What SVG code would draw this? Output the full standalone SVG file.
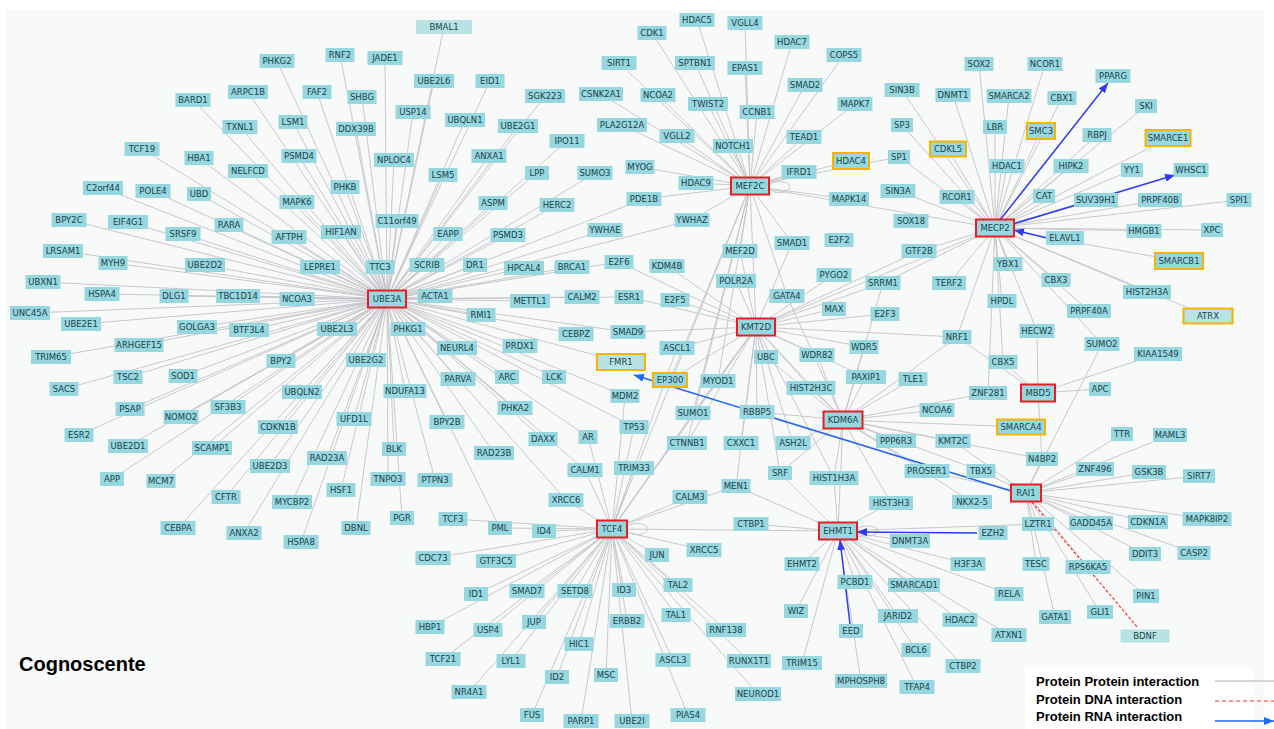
<svg xmlns="http://www.w3.org/2000/svg" width="1274" height="729" viewBox="0 0 1274 729">
<style>
.n rect{fill:#97d7df}
.n text{font-family:"DejaVu Sans",Verdana,sans-serif;font-size:8.5px;fill:#21424a;text-anchor:middle;dominant-baseline:central}
.h rect{stroke:#ec1c24;stroke-width:2}
.o rect{stroke:#f6b400;stroke-width:2}
.p rect{fill:#b8e3e5}
.e{fill:none;stroke:#c3c3c8;stroke-width:.9}
.b{fill:none;stroke:#2f3cf0;stroke-width:1.5}
.lg{font-family:"Liberation Sans",Arial,sans-serif;font-weight:bold;font-size:13px;fill:#000}
</style>
<defs>
<marker id="ah" viewBox="0 0 10 8" refX="10" refY="4" markerWidth="10" markerHeight="8" markerUnits="userSpaceOnUse" orient="auto"><path d="M0 0L10 4L0 8z" fill="#2f3cf0"/></marker>
<marker id="ah2" viewBox="0 0 10 8" refX="10" refY="4" markerWidth="10" markerHeight="8" markerUnits="userSpaceOnUse" orient="auto"><path d="M0 0L10 4L0 8z" fill="#1f66f0"/></marker>
</defs>
<rect x="0" y="0" width="1274" height="729" fill="#fff"/>
<rect x="6" y="10" width="1258" height="719" fill="#f8f9f9"/>
<g id="connectors">
<path id="e-UBE3A" class="e" d="M387 299L277 61M387 299L340 55M387 299L385 58M387 299L444 27M387 299L434 81M387 299L490 81M387 299L193 100M387 299L248 92M387 299L317 92M387 299L362 97M387 299L413 112M387 299L545 96M387 299L465 120M387 299L293 122M387 299L356 129M387 299L518 126M387 299L240 127M387 299L142 149M387 299L199 158M387 299L299 156M387 299L394 160M387 299L567 141M387 299L489 156M387 299L443 175M387 299L537 173M387 299L595 173M387 299L248 171M387 299L103 188M387 299L153 191M387 299L199 194M387 299L297 202M387 299L345 187M387 299L493 203M387 299L557 205M387 299L69 220M387 299L128 222M387 299L229 225M387 299L183 234M387 299L289 237M387 299L341 232M387 299L397 221M387 299L448 234M387 299L508 235M387 299L605 230M387 299L644 199M387 299L692 220M387 299L63 251M387 299L113 263M387 299L205 265M387 299L320 267M387 299L380 267M387 299L427 265M387 299L475 265M387 299L524 268M387 299L572 267M387 299L619 262M387 299L43 282M387 299L102 294M387 299L174 296M387 299L238 296M387 299L297 299M387 299L435 296M387 299L530 301M387 299L582 297M387 299L629 297M387 299L30 313M387 299L81 324M387 299L197 327M387 299L249 330M387 299L337 329M387 299L481 315M387 299L576 334M387 299L628 332M387 299L139 345M387 299L51 357M387 299L408 329M387 299L457 348M387 299L520 346M387 299L621 362M387 299L281 361M387 299L366 360M387 299L128 377M387 299L183 376M387 299L64 389M387 299L302 392M387 299L458 379M387 299L507 377M387 299L554 377M387 299L625 396M387 299L228 407M387 299L130 409M387 299L181 417M387 299L405 391M387 299L515 408M387 299L634 427M387 299L79 435M387 299L128 446M387 299L212 448M387 299L278 427M387 299L354 419M387 299L447 422M387 299L543 439M387 299L588 437M387 299L494 453M387 299L327 458M387 299L270 466M387 299L394 449M387 299L112 479M387 299L161 481M387 299L388 479M387 299L435 480M387 299L341 490M387 299L226 497M387 299L292 502M387 299L585 470M387 299L566 500M387 299L500 528M387 299L356 528M387 299L402 518M387 299L178 528M387 299L244 533M387 299L301 542"/>
<path id="e-MEF2C" class="e" d="M750 186L652 33M750 186L697 20M750 186L745 23M750 186L792 42M750 186L844 55M750 186L619 63M750 186L695 63M750 186L745 68M750 186L601 94M750 186L658 95M750 186L708 104M750 186L805 85M750 186L622 125M750 186L757 112M750 186L855 104M750 186L677 136M750 186L804 137M750 186L733 146M750 186L640 167M750 186L696 183M750 186L799 172M750 186L851 161M750 186L899 157M750 186L849 199M750 186L995 228M750 186L644 199M750 186L692 220M750 186L740 251M750 186L792 243M750 186L787 296M750 186L718 381M750 186L670 380M750 186L693 413M750 186L687 443M750 186L612 529M750 186L756 327"/>
<path id="e-KMT2D" class="e" d="M756 327L740 251M756 327L736 281M756 327L792 243M756 327L834 275M756 327L883 283M756 327L834 309M756 327L885 314M756 327L919 251M756 327L995 228M756 327L957 337M756 327L864 347M756 327L817 355M756 327L766 357M756 327L667 266M756 327L675 300M756 327L619 262M756 327L629 297M756 327L628 332M756 327L677 348M756 327L670 380M756 327L718 381M756 327L811 388M756 327L757 412M756 327L741 443M756 327L793 443M756 327L866 377M756 327L843 420M756 327L834 478M756 327L736 486M756 327L693 413M756 327L687 443M756 327L612 529M756 327L780 473"/>
<path id="e-KDM6A" class="e" d="M843 420L864 347M843 420L866 377M843 420L913 379M843 420L937 410M843 420L953 441M843 420L896 441M843 420L927 471M843 420L793 443M843 420L834 478M843 420L757 412M843 420L766 357M843 420L817 355M843 420L811 388M843 420L780 473M843 420L981 471M843 420L972 502M843 420L1021 427M843 420L988 393M843 420L1042 459M843 420L787 296M843 420L883 283M843 420L891 503M843 420L838 531M843 420L957 337"/>
<path id="e-MECP2" class="e" d="M995 228L979 64M995 228L1045 64M995 228L953 95M995 228L1009 96M995 228L1062 98M995 228L1146 106M995 228L995 127M995 228L1041 131M995 228L1097 135M995 228L1168 138M995 228L902 90M995 228L902 125M995 228L948 149M995 228L899 157M995 228L1007 166M995 228L1071 166M995 228L1132 170M995 228L898 191M995 228L957 197M995 228L1044 196M995 228L1096 200M995 228L1160 200M995 228L1239 200M995 228L1144 231M995 228L1212 230M995 228L919 251M995 228L1008 264M995 228L1179 261M995 228L949 283M995 228L1056 280M995 228L1147 292M995 228L1208 316M995 228L1002 301M995 228L1089 311M995 228L957 337M995 228L1037 331M995 228L1003 362M995 228L1102 344M995 228L883 283M995 228L988 393"/>
<path id="e-MBD5" class="e" d="M1038 393L1037 331M1038 393L1003 362M1038 393L1158 354M1038 393L1100 389M1038 393L1042 459M1038 393L957 337"/>
<path id="e-RAI1" class="e" d="M1026 493L1122 434M1026 493L1170 435M1026 493L1095 469M1026 493L1149 472M1026 493L1199 476M1026 493L1207 519M1026 493L1148 522M1026 493L1091 523M1026 493L1038 524M1026 493L1145 554M1026 493L1194 553M1026 493L1036 564M1026 493L1088 567M1026 493L1146 596M1026 493L1100 612M1026 493L1055 617M1026 493L1042 459M1026 493L1102 344M1026 493L981 471M1026 493L953 441M1026 493L927 471"/>
<path id="e-EHMT1" class="e" d="M838 531L751 524M838 531L891 503M838 531L910 541M838 531L802 564M838 531L796 611M838 531L802 663M838 531L855 582M838 531L861 681M838 531L914 585M838 531L898 616M838 531L916 650M838 531L917 687M838 531L960 620M838 531L963 666M838 531L1009 594M838 531L1009 635M838 531L968 564M838 531L1038 524M838 531L736 486M838 531L834 478M838 531L780 473"/>
<path id="e-TCF4" class="e" d="M612 529L566 500M612 529L453 519M612 529L500 528M612 529L544 531M612 529L433 558M612 529L496 561M612 529L476 594M612 529L527 591M612 529L575 591M612 529L624 590M612 529L430 627M612 529L488 630M612 529L534 622M612 529L627 621M612 529L579 644M612 529L443 659M612 529L511 661M612 529L469 692M612 529L557 677M612 529L606 675M612 529L532 715M612 529L581 721M612 529L632 721M612 529L688 715M612 529L673 660M612 529L758 694M612 529L749 661M612 529L726 630M612 529L676 615M612 529L678 585M612 529L657 555M612 529L704 550M612 529L690 497M612 529L634 468M612 529L634 427M612 529L625 396M612 529L585 470M612 529L588 437M612 529L693 413M612 529L718 381M612 529L677 348M612 529L736 486M612 529L838 531"/>
<ellipse class="e" cx="779" cy="187" rx="11" ry="5.5"/>
<ellipse class="e" cx="637" cy="529" rx="11" ry="5.5"/>
<ellipse class="e" cx="867" cy="531" rx="11" ry="5"/>
<line class="b" x1="1000" y1="220" x2="1108" y2="83" marker-end="url(#ah)"/>
<line class="b" x1="1013" y1="224" x2="1175" y2="175" marker-end="url(#ah)"/>
<line class="b" x1="1047" y1="238" x2="1014" y2="230" marker-end="url(#ah)"/>
<line class="b" x1="977" y1="533" x2="857" y2="532" marker-end="url(#ah)"/>
<line class="b" x1="850" y1="624" x2="840" y2="540" marker-end="url(#ah)"/>
<line x1="1011" y1="491" x2="634" y2="375" stroke="#1f66f0" stroke-width="1.5" marker-end="url(#ah2)"/>
<line x1="1032" y1="502" x2="1138" y2="628" stroke="#ff3030" stroke-width="1.2" stroke-dasharray="3 2"/>
</g>
<g id="nodes">
<g id="n-UBE3A" class="n h" transform="translate(387 299)"><rect x="-19" y="-8.5" width="38" height="17"/><text>UBE3A</text></g>
<g id="n-MEF2C" class="n h" transform="translate(750 186)"><rect x="-19" y="-8.5" width="38" height="17"/><text>MEF2C</text></g>
<g id="n-MECP2" class="n h" transform="translate(995 228)"><rect x="-19" y="-8.5" width="38" height="17"/><text>MECP2</text></g>
<g id="n-KMT2D" class="n h" transform="translate(756 327)"><rect x="-19" y="-8.5" width="38" height="17"/><text>KMT2D</text></g>
<g id="n-KDM6A" class="n h" transform="translate(843 420)"><rect x="-19.5" y="-8.5" width="39" height="17"/><text>KDM6A</text></g>
<g id="n-TCF4" class="n h" transform="translate(612 529)"><rect x="-15" y="-8.5" width="30" height="17"/><text>TCF4</text></g>
<g id="n-EHMT1" class="n h" transform="translate(838 531)"><rect x="-19" y="-8.5" width="38" height="17"/><text>EHMT1</text></g>
<g id="n-RAI1" class="n h" transform="translate(1026 493)"><rect x="-15" y="-8.5" width="30" height="17"/><text>RAI1</text></g>
<g id="n-MBD5" class="n h" transform="translate(1038 393)"><rect x="-17" y="-8.5" width="34" height="17"/><text>MBD5</text></g>
<g id="n-HDAC4" class="n o" transform="translate(851 161)"><rect x="-18" y="-8" width="36" height="16"/><text>HDAC4</text></g>
<g id="n-CDKL5" class="n o" transform="translate(948 149)"><rect x="-18" y="-7.5" width="36" height="15"/><text>CDKL5</text></g>
<g id="n-SMC3" class="n o" transform="translate(1041 131)"><rect x="-14" y="-8" width="28" height="16"/><text>SMC3</text></g>
<g id="n-SMARCE1" class="n o" transform="translate(1168 138)"><rect x="-22.5" y="-8" width="45" height="16"/><text>SMARCE1</text></g>
<g id="n-SMARCB1" class="n o" transform="translate(1179 261)"><rect x="-24" y="-8" width="48" height="16"/><text>SMARCB1</text></g>
<g id="n-SMARCA4" class="n o" transform="translate(1021 427)"><rect x="-24" y="-7.5" width="48" height="15"/><text>SMARCA4</text></g>
<g id="n-ATRX" class="n o p" transform="translate(1208 316)"><rect x="-24.5" y="-7.5" width="49" height="15"/><text>ATRX</text></g>
<g id="n-FMR1" class="n o p" transform="translate(621 362)"><rect x="-24" y="-8" width="48" height="16"/><text>FMR1</text></g>
<g id="n-EP300" class="n o" transform="translate(670 380)"><rect x="-17" y="-7" width="34" height="14"/><text>EP300</text></g>
<g id="n-BMAL1" class="n p" transform="translate(444 27)"><rect x="-28" y="-7" width="56" height="14"/><text>BMAL1</text></g>
<g id="n-BDNF" class="n p" transform="translate(1145 636)"><rect x="-24.5" y="-6.5" width="49" height="13"/><text>BDNF</text></g>
<g id="n-PHKG2" class="n" transform="translate(277 61)"><rect x="-17.5" y="-7" width="35" height="14"/><text>PHKG2</text></g>
<g id="n-RNF2" class="n" transform="translate(340 55)"><rect x="-14.5" y="-7" width="29" height="14"/><text>RNF2</text></g>
<g id="n-JADE1" class="n" transform="translate(385 58)"><rect x="-17.5" y="-7" width="35" height="14"/><text>JADE1</text></g>
<g id="n-UBE2L6" class="n" transform="translate(434 81)"><rect x="-20" y="-7" width="40" height="14"/><text>UBE2L6</text></g>
<g id="n-EID1" class="n" transform="translate(490 81)"><rect x="-14.5" y="-7" width="29" height="14"/><text>EID1</text></g>
<g id="n-BARD1" class="n" transform="translate(193 100)"><rect x="-17.5" y="-7" width="35" height="14"/><text>BARD1</text></g>
<g id="n-ARPC1B" class="n" transform="translate(248 92)"><rect x="-20" y="-7" width="40" height="14"/><text>ARPC1B</text></g>
<g id="n-FAF2" class="n" transform="translate(317 92)"><rect x="-14.5" y="-7" width="29" height="14"/><text>FAF2</text></g>
<g id="n-SHBG" class="n" transform="translate(362 97)"><rect x="-14.5" y="-7" width="29" height="14"/><text>SHBG</text></g>
<g id="n-USP14" class="n" transform="translate(413 112)"><rect x="-17.5" y="-7" width="35" height="14"/><text>USP14</text></g>
<g id="n-SGK223" class="n" transform="translate(545 96)"><rect x="-20" y="-7" width="40" height="14"/><text>SGK223</text></g>
<g id="n-UBQLN1" class="n" transform="translate(465 120)"><rect x="-20" y="-7" width="40" height="14"/><text>UBQLN1</text></g>
<g id="n-LSM1" class="n" transform="translate(293 122)"><rect x="-14.5" y="-7" width="29" height="14"/><text>LSM1</text></g>
<g id="n-DDX39B" class="n" transform="translate(356 129)"><rect x="-20" y="-7" width="40" height="14"/><text>DDX39B</text></g>
<g id="n-UBE2G1" class="n" transform="translate(518 126)"><rect x="-20" y="-7" width="40" height="14"/><text>UBE2G1</text></g>
<g id="n-TXNL1" class="n" transform="translate(240 127)"><rect x="-17.5" y="-7" width="35" height="14"/><text>TXNL1</text></g>
<g id="n-TCF19" class="n" transform="translate(142 149)"><rect x="-17.5" y="-7" width="35" height="14"/><text>TCF19</text></g>
<g id="n-HBA1" class="n" transform="translate(199 158)"><rect x="-14.5" y="-7" width="29" height="14"/><text>HBA1</text></g>
<g id="n-PSMD4" class="n" transform="translate(299 156)"><rect x="-17.5" y="-7" width="35" height="14"/><text>PSMD4</text></g>
<g id="n-NPLOC4" class="n" transform="translate(394 160)"><rect x="-20" y="-7" width="40" height="14"/><text>NPLOC4</text></g>
<g id="n-IPO11" class="n" transform="translate(567 141)"><rect x="-17.5" y="-7" width="35" height="14"/><text>IPO11</text></g>
<g id="n-ANXA1" class="n" transform="translate(489 156)"><rect x="-17.5" y="-7" width="35" height="14"/><text>ANXA1</text></g>
<g id="n-LSM5" class="n" transform="translate(443 175)"><rect x="-14.5" y="-7" width="29" height="14"/><text>LSM5</text></g>
<g id="n-LPP" class="n" transform="translate(537 173)"><rect x="-12" y="-7" width="24" height="14"/><text>LPP</text></g>
<g id="n-SUMO3" class="n" transform="translate(595 173)"><rect x="-17.5" y="-7" width="35" height="14"/><text>SUMO3</text></g>
<g id="n-NELFCD" class="n" transform="translate(248 171)"><rect x="-20" y="-7" width="40" height="14"/><text>NELFCD</text></g>
<g id="n-C2orf44" class="n" transform="translate(103 188)"><rect x="-20" y="-7" width="40" height="14"/><text>C2orf44</text></g>
<g id="n-POLE4" class="n" transform="translate(153 191)"><rect x="-17.5" y="-7" width="35" height="14"/><text>POLE4</text></g>
<g id="n-UBD" class="n" transform="translate(199 194)"><rect x="-12" y="-7" width="24" height="14"/><text>UBD</text></g>
<g id="n-MAPK6" class="n" transform="translate(297 202)"><rect x="-17.5" y="-7" width="35" height="14"/><text>MAPK6</text></g>
<g id="n-PHKB" class="n" transform="translate(345 187)"><rect x="-14.5" y="-7" width="29" height="14"/><text>PHKB</text></g>
<g id="n-ASPM" class="n" transform="translate(493 203)"><rect x="-14.5" y="-7" width="29" height="14"/><text>ASPM</text></g>
<g id="n-HERC2" class="n" transform="translate(557 205)"><rect x="-17.5" y="-7" width="35" height="14"/><text>HERC2</text></g>
<g id="n-BPY2C" class="n" transform="translate(69 220)"><rect x="-17.5" y="-7" width="35" height="14"/><text>BPY2C</text></g>
<g id="n-EIF4G1" class="n" transform="translate(128 222)"><rect x="-20" y="-7" width="40" height="14"/><text>EIF4G1</text></g>
<g id="n-RARA" class="n" transform="translate(229 225)"><rect x="-14.5" y="-7" width="29" height="14"/><text>RARA</text></g>
<g id="n-SRSF9" class="n" transform="translate(183 234)"><rect x="-17.5" y="-7" width="35" height="14"/><text>SRSF9</text></g>
<g id="n-AFTPH" class="n" transform="translate(289 237)"><rect x="-17.5" y="-7" width="35" height="14"/><text>AFTPH</text></g>
<g id="n-HIF1AN" class="n" transform="translate(341 232)"><rect x="-20" y="-7" width="40" height="14"/><text>HIF1AN</text></g>
<g id="n-C11orf49" class="n" transform="translate(397 221)"><rect x="-21.5" y="-7" width="43" height="14"/><text>C11orf49</text></g>
<g id="n-EAPP" class="n" transform="translate(448 234)"><rect x="-14.5" y="-7" width="29" height="14"/><text>EAPP</text></g>
<g id="n-PSMD3" class="n" transform="translate(508 235)"><rect x="-17.5" y="-7" width="35" height="14"/><text>PSMD3</text></g>
<g id="n-YWHAE" class="n" transform="translate(605 230)"><rect x="-17.5" y="-7" width="35" height="14"/><text>YWHAE</text></g>
<g id="n-LRSAM1" class="n" transform="translate(63 251)"><rect x="-20" y="-7" width="40" height="14"/><text>LRSAM1</text></g>
<g id="n-MYH9" class="n" transform="translate(113 263)"><rect x="-14.5" y="-7" width="29" height="14"/><text>MYH9</text></g>
<g id="n-UBE2D2" class="n" transform="translate(205 265)"><rect x="-20" y="-7" width="40" height="14"/><text>UBE2D2</text></g>
<g id="n-LEPRE1" class="n" transform="translate(320 267)"><rect x="-20" y="-7" width="40" height="14"/><text>LEPRE1</text></g>
<g id="n-TTC3" class="n" transform="translate(380 267)"><rect x="-14.5" y="-7" width="29" height="14"/><text>TTC3</text></g>
<g id="n-SCRIB" class="n" transform="translate(427 265)"><rect x="-17.5" y="-7" width="35" height="14"/><text>SCRIB</text></g>
<g id="n-DR1" class="n" transform="translate(475 265)"><rect x="-12" y="-7" width="24" height="14"/><text>DR1</text></g>
<g id="n-HPCAL4" class="n" transform="translate(524 268)"><rect x="-20" y="-7" width="40" height="14"/><text>HPCAL4</text></g>
<g id="n-BRCA1" class="n" transform="translate(572 267)"><rect x="-17.5" y="-7" width="35" height="14"/><text>BRCA1</text></g>
<g id="n-E2F6" class="n" transform="translate(619 262)"><rect x="-14.5" y="-7" width="29" height="14"/><text>E2F6</text></g>
<g id="n-UBXN1" class="n" transform="translate(43 282)"><rect x="-17.5" y="-7" width="35" height="14"/><text>UBXN1</text></g>
<g id="n-HSPA4" class="n" transform="translate(102 294)"><rect x="-17.5" y="-7" width="35" height="14"/><text>HSPA4</text></g>
<g id="n-DLG1" class="n" transform="translate(174 296)"><rect x="-14.5" y="-7" width="29" height="14"/><text>DLG1</text></g>
<g id="n-TBC1D14" class="n" transform="translate(238 296)"><rect x="-22" y="-7" width="44" height="14"/><text>TBC1D14</text></g>
<g id="n-NCOA3" class="n" transform="translate(297 299)"><rect x="-17.5" y="-7" width="35" height="14"/><text>NCOA3</text></g>
<g id="n-ACTA1" class="n" transform="translate(435 296)"><rect x="-17.5" y="-7" width="35" height="14"/><text>ACTA1</text></g>
<g id="n-METTL1" class="n" transform="translate(530 301)"><rect x="-20" y="-7" width="40" height="14"/><text>METTL1</text></g>
<g id="n-CALM2" class="n" transform="translate(582 297)"><rect x="-17.5" y="-7" width="35" height="14"/><text>CALM2</text></g>
<g id="n-ESR1" class="n" transform="translate(629 297)"><rect x="-14.5" y="-7" width="29" height="14"/><text>ESR1</text></g>
<g id="n-UNC45A" class="n" transform="translate(30 313)"><rect x="-20" y="-7" width="40" height="14"/><text>UNC45A</text></g>
<g id="n-UBE2E1" class="n" transform="translate(81 324)"><rect x="-20" y="-7" width="40" height="14"/><text>UBE2E1</text></g>
<g id="n-GOLGA3" class="n" transform="translate(197 327)"><rect x="-20" y="-7" width="40" height="14"/><text>GOLGA3</text></g>
<g id="n-BTF3L4" class="n" transform="translate(249 330)"><rect x="-20" y="-7" width="40" height="14"/><text>BTF3L4</text></g>
<g id="n-UBE2L3" class="n" transform="translate(337 329)"><rect x="-20" y="-7" width="40" height="14"/><text>UBE2L3</text></g>
<g id="n-RMI1" class="n" transform="translate(481 315)"><rect x="-14.5" y="-7" width="29" height="14"/><text>RMI1</text></g>
<g id="n-CEBPZ" class="n" transform="translate(576 334)"><rect x="-17.5" y="-7" width="35" height="14"/><text>CEBPZ</text></g>
<g id="n-SMAD9" class="n" transform="translate(628 332)"><rect x="-17.5" y="-7" width="35" height="14"/><text>SMAD9</text></g>
<g id="n-ARHGEF15" class="n" transform="translate(139 345)"><rect x="-24.5" y="-7" width="49" height="14"/><text>ARHGEF15</text></g>
<g id="n-TRIM65" class="n" transform="translate(51 357)"><rect x="-20" y="-7" width="40" height="14"/><text>TRIM65</text></g>
<g id="n-PHKG1" class="n" transform="translate(408 329)"><rect x="-17.5" y="-7" width="35" height="14"/><text>PHKG1</text></g>
<g id="n-NEURL4" class="n" transform="translate(457 348)"><rect x="-20" y="-7" width="40" height="14"/><text>NEURL4</text></g>
<g id="n-PRDX1" class="n" transform="translate(520 346)"><rect x="-17.5" y="-7" width="35" height="14"/><text>PRDX1</text></g>
<g id="n-BPY2" class="n" transform="translate(281 361)"><rect x="-14.5" y="-7" width="29" height="14"/><text>BPY2</text></g>
<g id="n-UBE2G2" class="n" transform="translate(366 360)"><rect x="-20" y="-7" width="40" height="14"/><text>UBE2G2</text></g>
<g id="n-TSC2" class="n" transform="translate(128 377)"><rect x="-14.5" y="-7" width="29" height="14"/><text>TSC2</text></g>
<g id="n-SOD1" class="n" transform="translate(183 376)"><rect x="-14.5" y="-7" width="29" height="14"/><text>SOD1</text></g>
<g id="n-SACS" class="n" transform="translate(64 389)"><rect x="-14.5" y="-7" width="29" height="14"/><text>SACS</text></g>
<g id="n-UBQLN2" class="n" transform="translate(302 392)"><rect x="-20" y="-7" width="40" height="14"/><text>UBQLN2</text></g>
<g id="n-PARVA" class="n" transform="translate(458 379)"><rect x="-17.5" y="-7" width="35" height="14"/><text>PARVA</text></g>
<g id="n-ARC" class="n" transform="translate(507 377)"><rect x="-12" y="-7" width="24" height="14"/><text>ARC</text></g>
<g id="n-LCK" class="n" transform="translate(554 377)"><rect x="-12" y="-7" width="24" height="14"/><text>LCK</text></g>
<g id="n-SF3B3" class="n" transform="translate(228 407)"><rect x="-17.5" y="-7" width="35" height="14"/><text>SF3B3</text></g>
<g id="n-PSAP" class="n" transform="translate(130 409)"><rect x="-14.5" y="-7" width="29" height="14"/><text>PSAP</text></g>
<g id="n-NOMO2" class="n" transform="translate(181 417)"><rect x="-17.5" y="-7" width="35" height="14"/><text>NOMO2</text></g>
<g id="n-NDUFA13" class="n" transform="translate(405 391)"><rect x="-21.5" y="-7" width="43" height="14"/><text>NDUFA13</text></g>
<g id="n-PHKA2" class="n" transform="translate(515 408)"><rect x="-17.5" y="-7" width="35" height="14"/><text>PHKA2</text></g>
<g id="n-MDM2" class="n" transform="translate(625 396)"><rect x="-14.5" y="-7" width="29" height="14"/><text>MDM2</text></g>
<g id="n-ESR2" class="n" transform="translate(79 435)"><rect x="-14.5" y="-7" width="29" height="14"/><text>ESR2</text></g>
<g id="n-UBE2D1" class="n" transform="translate(128 446)"><rect x="-20" y="-7" width="40" height="14"/><text>UBE2D1</text></g>
<g id="n-SCAMP1" class="n" transform="translate(212 448)"><rect x="-20" y="-7" width="40" height="14"/><text>SCAMP1</text></g>
<g id="n-CDKN1B" class="n" transform="translate(278 427)"><rect x="-20" y="-7" width="40" height="14"/><text>CDKN1B</text></g>
<g id="n-UFD1L" class="n" transform="translate(354 419)"><rect x="-17.5" y="-7" width="35" height="14"/><text>UFD1L</text></g>
<g id="n-BPY2B" class="n" transform="translate(447 422)"><rect x="-17.5" y="-7" width="35" height="14"/><text>BPY2B</text></g>
<g id="n-TP53" class="n" transform="translate(634 427)"><rect x="-14.5" y="-7" width="29" height="14"/><text>TP53</text></g>
<g id="n-DAXX" class="n" transform="translate(543 439)"><rect x="-14.5" y="-7" width="29" height="14"/><text>DAXX</text></g>
<g id="n-AR" class="n" transform="translate(588 437)"><rect x="-9.5" y="-7" width="19" height="14"/><text>AR</text></g>
<g id="n-RAD23B" class="n" transform="translate(494 453)"><rect x="-20" y="-7" width="40" height="14"/><text>RAD23B</text></g>
<g id="n-RAD23A" class="n" transform="translate(327 458)"><rect x="-20" y="-7" width="40" height="14"/><text>RAD23A</text></g>
<g id="n-UBE2D3" class="n" transform="translate(270 466)"><rect x="-20" y="-7" width="40" height="14"/><text>UBE2D3</text></g>
<g id="n-BLK" class="n" transform="translate(394 449)"><rect x="-12" y="-7" width="24" height="14"/><text>BLK</text></g>
<g id="n-APP" class="n" transform="translate(112 479)"><rect x="-12" y="-7" width="24" height="14"/><text>APP</text></g>
<g id="n-MCM7" class="n" transform="translate(161 481)"><rect x="-14.5" y="-7" width="29" height="14"/><text>MCM7</text></g>
<g id="n-TNPO3" class="n" transform="translate(388 479)"><rect x="-17.5" y="-7" width="35" height="14"/><text>TNPO3</text></g>
<g id="n-PTPN3" class="n" transform="translate(435 480)"><rect x="-17.5" y="-7" width="35" height="14"/><text>PTPN3</text></g>
<g id="n-HSF1" class="n" transform="translate(341 490)"><rect x="-14.5" y="-7" width="29" height="14"/><text>HSF1</text></g>
<g id="n-CFTR" class="n" transform="translate(226 497)"><rect x="-14.5" y="-7" width="29" height="14"/><text>CFTR</text></g>
<g id="n-MYCBP2" class="n" transform="translate(292 502)"><rect x="-20" y="-7" width="40" height="14"/><text>MYCBP2</text></g>
<g id="n-CALM1" class="n" transform="translate(585 470)"><rect x="-17.5" y="-7" width="35" height="14"/><text>CALM1</text></g>
<g id="n-TRIM33" class="n" transform="translate(634 468)"><rect x="-20" y="-7" width="40" height="14"/><text>TRIM33</text></g>
<g id="n-XRCC6" class="n" transform="translate(566 500)"><rect x="-17.5" y="-7" width="35" height="14"/><text>XRCC6</text></g>
<g id="n-TCF3" class="n" transform="translate(453 519)"><rect x="-14.5" y="-7" width="29" height="14"/><text>TCF3</text></g>
<g id="n-PML" class="n" transform="translate(500 528)"><rect x="-12" y="-7" width="24" height="14"/><text>PML</text></g>
<g id="n-ID4" class="n" transform="translate(544 531)"><rect x="-12" y="-7" width="24" height="14"/><text>ID4</text></g>
<g id="n-DBNL" class="n" transform="translate(356 528)"><rect x="-14.5" y="-7" width="29" height="14"/><text>DBNL</text></g>
<g id="n-PGR" class="n" transform="translate(402 518)"><rect x="-12" y="-7" width="24" height="14"/><text>PGR</text></g>
<g id="n-CEBPA" class="n" transform="translate(178 528)"><rect x="-17.5" y="-7" width="35" height="14"/><text>CEBPA</text></g>
<g id="n-ANXA2" class="n" transform="translate(244 533)"><rect x="-17.5" y="-7" width="35" height="14"/><text>ANXA2</text></g>
<g id="n-HSPA8" class="n" transform="translate(301 542)"><rect x="-17.5" y="-7" width="35" height="14"/><text>HSPA8</text></g>
<g id="n-CDC73" class="n" transform="translate(433 558)"><rect x="-17.5" y="-7" width="35" height="14"/><text>CDC73</text></g>
<g id="n-GTF3C5" class="n" transform="translate(496 561)"><rect x="-20" y="-7" width="40" height="14"/><text>GTF3C5</text></g>
<g id="n-ID1" class="n" transform="translate(476 594)"><rect x="-12" y="-7" width="24" height="14"/><text>ID1</text></g>
<g id="n-SMAD7" class="n" transform="translate(527 591)"><rect x="-17.5" y="-7" width="35" height="14"/><text>SMAD7</text></g>
<g id="n-SETD8" class="n" transform="translate(575 591)"><rect x="-17.5" y="-7" width="35" height="14"/><text>SETD8</text></g>
<g id="n-ID3" class="n" transform="translate(624 590)"><rect x="-12" y="-7" width="24" height="14"/><text>ID3</text></g>
<g id="n-HBP1" class="n" transform="translate(430 627)"><rect x="-14.5" y="-7" width="29" height="14"/><text>HBP1</text></g>
<g id="n-USP4" class="n" transform="translate(488 630)"><rect x="-14.5" y="-7" width="29" height="14"/><text>USP4</text></g>
<g id="n-JUP" class="n" transform="translate(534 622)"><rect x="-12" y="-7" width="24" height="14"/><text>JUP</text></g>
<g id="n-ERBB2" class="n" transform="translate(627 621)"><rect x="-17.5" y="-7" width="35" height="14"/><text>ERBB2</text></g>
<g id="n-HIC1" class="n" transform="translate(579 644)"><rect x="-14.5" y="-7" width="29" height="14"/><text>HIC1</text></g>
<g id="n-TCF21" class="n" transform="translate(443 659)"><rect x="-17.5" y="-7" width="35" height="14"/><text>TCF21</text></g>
<g id="n-LYL1" class="n" transform="translate(511 661)"><rect x="-14.5" y="-7" width="29" height="14"/><text>LYL1</text></g>
<g id="n-NR4A1" class="n" transform="translate(469 692)"><rect x="-17.5" y="-7" width="35" height="14"/><text>NR4A1</text></g>
<g id="n-ID2" class="n" transform="translate(557 677)"><rect x="-12" y="-7" width="24" height="14"/><text>ID2</text></g>
<g id="n-MSC" class="n" transform="translate(606 675)"><rect x="-12" y="-7" width="24" height="14"/><text>MSC</text></g>
<g id="n-FUS" class="n" transform="translate(532 715)"><rect x="-12" y="-7" width="24" height="14"/><text>FUS</text></g>
<g id="n-PARP1" class="n" transform="translate(581 721)"><rect x="-17.5" y="-7" width="35" height="14"/><text>PARP1</text></g>
<g id="n-UBE2I" class="n" transform="translate(632 721)"><rect x="-17.5" y="-7" width="35" height="14"/><text>UBE2I</text></g>
<g id="n-CDK1" class="n" transform="translate(652 33)"><rect x="-14.5" y="-7" width="29" height="14"/><text>CDK1</text></g>
<g id="n-HDAC5" class="n" transform="translate(697 20)"><rect x="-17.5" y="-7" width="35" height="14"/><text>HDAC5</text></g>
<g id="n-VGLL4" class="n" transform="translate(745 23)"><rect x="-17.5" y="-7" width="35" height="14"/><text>VGLL4</text></g>
<g id="n-HDAC7" class="n" transform="translate(792 42)"><rect x="-17.5" y="-7" width="35" height="14"/><text>HDAC7</text></g>
<g id="n-COPS5" class="n" transform="translate(844 55)"><rect x="-17.5" y="-7" width="35" height="14"/><text>COPS5</text></g>
<g id="n-SIRT1" class="n" transform="translate(619 63)"><rect x="-17.5" y="-7" width="35" height="14"/><text>SIRT1</text></g>
<g id="n-SPTBN1" class="n" transform="translate(695 63)"><rect x="-20" y="-7" width="40" height="14"/><text>SPTBN1</text></g>
<g id="n-EPAS1" class="n" transform="translate(745 68)"><rect x="-17.5" y="-7" width="35" height="14"/><text>EPAS1</text></g>
<g id="n-CSNK2A1" class="n" transform="translate(601 94)"><rect x="-22" y="-7" width="44" height="14"/><text>CSNK2A1</text></g>
<g id="n-NCOA2" class="n" transform="translate(658 95)"><rect x="-17.5" y="-7" width="35" height="14"/><text>NCOA2</text></g>
<g id="n-TWIST2" class="n" transform="translate(708 104)"><rect x="-20" y="-7" width="40" height="14"/><text>TWIST2</text></g>
<g id="n-SMAD2" class="n" transform="translate(805 85)"><rect x="-17.5" y="-7" width="35" height="14"/><text>SMAD2</text></g>
<g id="n-PLA2G12A" class="n" transform="translate(622 125)"><rect x="-25" y="-7" width="50" height="14"/><text>PLA2G12A</text></g>
<g id="n-CCNB1" class="n" transform="translate(757 112)"><rect x="-17.5" y="-7" width="35" height="14"/><text>CCNB1</text></g>
<g id="n-MAPK7" class="n" transform="translate(855 104)"><rect x="-17.5" y="-7" width="35" height="14"/><text>MAPK7</text></g>
<g id="n-VGLL2" class="n" transform="translate(677 136)"><rect x="-17.5" y="-7" width="35" height="14"/><text>VGLL2</text></g>
<g id="n-TEAD1" class="n" transform="translate(804 137)"><rect x="-17.5" y="-7" width="35" height="14"/><text>TEAD1</text></g>
<g id="n-NOTCH1" class="n" transform="translate(733 146)"><rect x="-20" y="-7" width="40" height="14"/><text>NOTCH1</text></g>
<g id="n-MYOG" class="n" transform="translate(640 167)"><rect x="-14.5" y="-7" width="29" height="14"/><text>MYOG</text></g>
<g id="n-HDAC9" class="n" transform="translate(696 183)"><rect x="-17.5" y="-7" width="35" height="14"/><text>HDAC9</text></g>
<g id="n-IFRD1" class="n" transform="translate(799 172)"><rect x="-17.5" y="-7" width="35" height="14"/><text>IFRD1</text></g>
<g id="n-MAPK14" class="n" transform="translate(849 199)"><rect x="-20" y="-7" width="40" height="14"/><text>MAPK14</text></g>
<g id="n-PDE1B" class="n" transform="translate(644 199)"><rect x="-17.5" y="-7" width="35" height="14"/><text>PDE1B</text></g>
<g id="n-YWHAZ" class="n" transform="translate(692 220)"><rect x="-17.5" y="-7" width="35" height="14"/><text>YWHAZ</text></g>
<g id="n-KDM4B" class="n" transform="translate(667 266)"><rect x="-17.5" y="-7" width="35" height="14"/><text>KDM4B</text></g>
<g id="n-MEF2D" class="n" transform="translate(740 251)"><rect x="-17.5" y="-7" width="35" height="14"/><text>MEF2D</text></g>
<g id="n-SMAD1" class="n" transform="translate(792 243)"><rect x="-17.5" y="-7" width="35" height="14"/><text>SMAD1</text></g>
<g id="n-E2F2" class="n" transform="translate(839 240)"><rect x="-14.5" y="-7" width="29" height="14"/><text>E2F2</text></g>
<g id="n-POLR2A" class="n" transform="translate(736 281)"><rect x="-20" y="-7" width="40" height="14"/><text>POLR2A</text></g>
<g id="n-PYGO2" class="n" transform="translate(834 275)"><rect x="-17.5" y="-7" width="35" height="14"/><text>PYGO2</text></g>
<g id="n-GATA4" class="n" transform="translate(787 296)"><rect x="-17.5" y="-7" width="35" height="14"/><text>GATA4</text></g>
<g id="n-SRRM1" class="n" transform="translate(883 283)"><rect x="-17.5" y="-7" width="35" height="14"/><text>SRRM1</text></g>
<g id="n-MAX" class="n" transform="translate(834 309)"><rect x="-12" y="-7" width="24" height="14"/><text>MAX</text></g>
<g id="n-E2F3" class="n" transform="translate(885 314)"><rect x="-14.5" y="-7" width="29" height="14"/><text>E2F3</text></g>
<g id="n-E2F5" class="n" transform="translate(675 300)"><rect x="-14.5" y="-7" width="29" height="14"/><text>E2F5</text></g>
<g id="n-ASCL1" class="n" transform="translate(677 348)"><rect x="-17.5" y="-7" width="35" height="14"/><text>ASCL1</text></g>
<g id="n-UBC" class="n" transform="translate(766 357)"><rect x="-12" y="-7" width="24" height="14"/><text>UBC</text></g>
<g id="n-WDR82" class="n" transform="translate(817 355)"><rect x="-17.5" y="-7" width="35" height="14"/><text>WDR82</text></g>
<g id="n-WDR5" class="n" transform="translate(864 347)"><rect x="-14.5" y="-7" width="29" height="14"/><text>WDR5</text></g>
<g id="n-MYOD1" class="n" transform="translate(718 381)"><rect x="-17.5" y="-7" width="35" height="14"/><text>MYOD1</text></g>
<g id="n-PAXIP1" class="n" transform="translate(866 377)"><rect x="-20" y="-7" width="40" height="14"/><text>PAXIP1</text></g>
<g id="n-TLE1" class="n" transform="translate(913 379)"><rect x="-14.5" y="-7" width="29" height="14"/><text>TLE1</text></g>
<g id="n-HIST2H3C" class="n" transform="translate(811 388)"><rect x="-24.5" y="-7" width="49" height="14"/><text>HIST2H3C</text></g>
<g id="n-SUMO1" class="n" transform="translate(693 413)"><rect x="-17.5" y="-7" width="35" height="14"/><text>SUMO1</text></g>
<g id="n-RBBP5" class="n" transform="translate(757 412)"><rect x="-17.5" y="-7" width="35" height="14"/><text>RBBP5</text></g>
<g id="n-NCOA6" class="n" transform="translate(937 410)"><rect x="-17.5" y="-7" width="35" height="14"/><text>NCOA6</text></g>
<g id="n-CTNNB1" class="n" transform="translate(687 443)"><rect x="-20" y="-7" width="40" height="14"/><text>CTNNB1</text></g>
<g id="n-CXXC1" class="n" transform="translate(741 443)"><rect x="-17.5" y="-7" width="35" height="14"/><text>CXXC1</text></g>
<g id="n-ASH2L" class="n" transform="translate(793 443)"><rect x="-17.5" y="-7" width="35" height="14"/><text>ASH2L</text></g>
<g id="n-PPP6R3" class="n" transform="translate(896 441)"><rect x="-20" y="-7" width="40" height="14"/><text>PPP6R3</text></g>
<g id="n-KMT2C" class="n" transform="translate(953 441)"><rect x="-17.5" y="-7" width="35" height="14"/><text>KMT2C</text></g>
<g id="n-SRF" class="n" transform="translate(780 473)"><rect x="-12" y="-7" width="24" height="14"/><text>SRF</text></g>
<g id="n-HIST1H3A" class="n" transform="translate(834 478)"><rect x="-24.5" y="-7" width="49" height="14"/><text>HIST1H3A</text></g>
<g id="n-PROSER1" class="n" transform="translate(927 471)"><rect x="-22.5" y="-7" width="45" height="14"/><text>PROSER1</text></g>
<g id="n-TBX5" class="n" transform="translate(981 471)"><rect x="-14.5" y="-7" width="29" height="14"/><text>TBX5</text></g>
<g id="n-MEN1" class="n" transform="translate(736 486)"><rect x="-14.5" y="-7" width="29" height="14"/><text>MEN1</text></g>
<g id="n-CALM3" class="n" transform="translate(690 497)"><rect x="-17.5" y="-7" width="35" height="14"/><text>CALM3</text></g>
<g id="n-HIST3H3" class="n" transform="translate(891 503)"><rect x="-22" y="-7" width="44" height="14"/><text>HIST3H3</text></g>
<g id="n-NKX2-5" class="n" transform="translate(972 502)"><rect x="-20" y="-7" width="40" height="14"/><text>NKX2-5</text></g>
<g id="n-CTBP1" class="n" transform="translate(751 524)"><rect x="-17.5" y="-7" width="35" height="14"/><text>CTBP1</text></g>
<g id="n-EZH2" class="n" transform="translate(993 533)"><rect x="-14.5" y="-7" width="29" height="14"/><text>EZH2</text></g>
<g id="n-DNMT3A" class="n" transform="translate(910 541)"><rect x="-20" y="-7" width="40" height="14"/><text>DNMT3A</text></g>
<g id="n-XRCC5" class="n" transform="translate(704 550)"><rect x="-17.5" y="-7" width="35" height="14"/><text>XRCC5</text></g>
<g id="n-JUN" class="n" transform="translate(657 555)"><rect x="-12" y="-7" width="24" height="14"/><text>JUN</text></g>
<g id="n-EHMT2" class="n" transform="translate(802 564)"><rect x="-17.5" y="-7" width="35" height="14"/><text>EHMT2</text></g>
<g id="n-H3F3A" class="n" transform="translate(968 564)"><rect x="-17.5" y="-7" width="35" height="14"/><text>H3F3A</text></g>
<g id="n-PCBD1" class="n" transform="translate(855 582)"><rect x="-17.5" y="-7" width="35" height="14"/><text>PCBD1</text></g>
<g id="n-SMARCAD1" class="n" transform="translate(914 585)"><rect x="-26" y="-7" width="52" height="14"/><text>SMARCAD1</text></g>
<g id="n-TAL2" class="n" transform="translate(678 585)"><rect x="-14.5" y="-7" width="29" height="14"/><text>TAL2</text></g>
<g id="n-TAL1" class="n" transform="translate(676 615)"><rect x="-14.5" y="-7" width="29" height="14"/><text>TAL1</text></g>
<g id="n-RNF138" class="n" transform="translate(726 630)"><rect x="-20" y="-7" width="40" height="14"/><text>RNF138</text></g>
<g id="n-WIZ" class="n" transform="translate(796 611)"><rect x="-12" y="-7" width="24" height="14"/><text>WIZ</text></g>
<g id="n-EED" class="n" transform="translate(851 631)"><rect x="-12" y="-7" width="24" height="14"/><text>EED</text></g>
<g id="n-JARID2" class="n" transform="translate(898 616)"><rect x="-20" y="-7" width="40" height="14"/><text>JARID2</text></g>
<g id="n-HDAC2" class="n" transform="translate(960 620)"><rect x="-17.5" y="-7" width="35" height="14"/><text>HDAC2</text></g>
<g id="n-RELA" class="n" transform="translate(1009 594)"><rect x="-14.5" y="-7" width="29" height="14"/><text>RELA</text></g>
<g id="n-ASCL3" class="n" transform="translate(673 660)"><rect x="-17.5" y="-7" width="35" height="14"/><text>ASCL3</text></g>
<g id="n-RUNX1T1" class="n" transform="translate(749 661)"><rect x="-22" y="-7" width="44" height="14"/><text>RUNX1T1</text></g>
<g id="n-TRIM15" class="n" transform="translate(802 663)"><rect x="-20" y="-7" width="40" height="14"/><text>TRIM15</text></g>
<g id="n-BCL6" class="n" transform="translate(916 650)"><rect x="-14.5" y="-7" width="29" height="14"/><text>BCL6</text></g>
<g id="n-CTBP2" class="n" transform="translate(963 666)"><rect x="-17.5" y="-7" width="35" height="14"/><text>CTBP2</text></g>
<g id="n-ATXN1" class="n" transform="translate(1009 635)"><rect x="-17.5" y="-7" width="35" height="14"/><text>ATXN1</text></g>
<g id="n-MPHOSPH8" class="n" transform="translate(861 681)"><rect x="-26" y="-7" width="52" height="14"/><text>MPHOSPH8</text></g>
<g id="n-TFAP4" class="n" transform="translate(917 687)"><rect x="-17.5" y="-7" width="35" height="14"/><text>TFAP4</text></g>
<g id="n-NEUROD1" class="n" transform="translate(758 694)"><rect x="-23" y="-7" width="46" height="14"/><text>NEUROD1</text></g>
<g id="n-PIAS4" class="n" transform="translate(688 715)"><rect x="-17.5" y="-7" width="35" height="14"/><text>PIAS4</text></g>
<g id="n-SOX2" class="n" transform="translate(979 64)"><rect x="-14.5" y="-7" width="29" height="14"/><text>SOX2</text></g>
<g id="n-NCOR1" class="n" transform="translate(1045 64)"><rect x="-17.5" y="-7" width="35" height="14"/><text>NCOR1</text></g>
<g id="n-PPARG" class="n" transform="translate(1113 76)"><rect x="-17.5" y="-7" width="35" height="14"/><text>PPARG</text></g>
<g id="n-DNMT1" class="n" transform="translate(953 95)"><rect x="-17.5" y="-7" width="35" height="14"/><text>DNMT1</text></g>
<g id="n-SMARCA2" class="n" transform="translate(1009 96)"><rect x="-22.5" y="-7" width="45" height="14"/><text>SMARCA2</text></g>
<g id="n-CBX1" class="n" transform="translate(1062 98)"><rect x="-14.5" y="-7" width="29" height="14"/><text>CBX1</text></g>
<g id="n-SKI" class="n" transform="translate(1146 106)"><rect x="-11" y="-7" width="22" height="14"/><text>SKI</text></g>
<g id="n-SIN3B" class="n" transform="translate(902 90)"><rect x="-17.5" y="-7" width="35" height="14"/><text>SIN3B</text></g>
<g id="n-LBR" class="n" transform="translate(995 127)"><rect x="-12" y="-7" width="24" height="14"/><text>LBR</text></g>
<g id="n-RBPJ" class="n" transform="translate(1097 135)"><rect x="-14.5" y="-7" width="29" height="14"/><text>RBPJ</text></g>
<g id="n-SP3" class="n" transform="translate(902 125)"><rect x="-11" y="-7" width="22" height="14"/><text>SP3</text></g>
<g id="n-SP1" class="n" transform="translate(899 157)"><rect x="-11" y="-7" width="22" height="14"/><text>SP1</text></g>
<g id="n-HDAC1" class="n" transform="translate(1007 166)"><rect x="-17.5" y="-7" width="35" height="14"/><text>HDAC1</text></g>
<g id="n-HIPK2" class="n" transform="translate(1071 166)"><rect x="-17.5" y="-7" width="35" height="14"/><text>HIPK2</text></g>
<g id="n-YY1" class="n" transform="translate(1132 170)"><rect x="-11" y="-7" width="22" height="14"/><text>YY1</text></g>
<g id="n-WHSC1" class="n" transform="translate(1191 170)"><rect x="-17.5" y="-7" width="35" height="14"/><text>WHSC1</text></g>
<g id="n-SIN3A" class="n" transform="translate(898 191)"><rect x="-17.5" y="-7" width="35" height="14"/><text>SIN3A</text></g>
<g id="n-RCOR1" class="n" transform="translate(957 197)"><rect x="-17.5" y="-7" width="35" height="14"/><text>RCOR1</text></g>
<g id="n-CAT" class="n" transform="translate(1044 196)"><rect x="-11" y="-7" width="22" height="14"/><text>CAT</text></g>
<g id="n-SUV39H1" class="n" transform="translate(1096 200)"><rect x="-22" y="-7" width="44" height="14"/><text>SUV39H1</text></g>
<g id="n-PRPF40B" class="n" transform="translate(1160 200)"><rect x="-22" y="-7" width="44" height="14"/><text>PRPF40B</text></g>
<g id="n-SPI1" class="n" transform="translate(1239 200)"><rect x="-12.5" y="-7" width="25" height="14"/><text>SPI1</text></g>
<g id="n-SOX18" class="n" transform="translate(911 221)"><rect x="-17.5" y="-7" width="35" height="14"/><text>SOX18</text></g>
<g id="n-HMGB1" class="n" transform="translate(1144 231)"><rect x="-17.5" y="-7" width="35" height="14"/><text>HMGB1</text></g>
<g id="n-XPC" class="n" transform="translate(1212 230)"><rect x="-11" y="-7" width="22" height="14"/><text>XPC</text></g>
<g id="n-ELAVL1" class="n" transform="translate(1065 238)"><rect x="-19" y="-7" width="38" height="14"/><text>ELAVL1</text></g>
<g id="n-GTF2B" class="n" transform="translate(919 251)"><rect x="-17.5" y="-7" width="35" height="14"/><text>GTF2B</text></g>
<g id="n-YBX1" class="n" transform="translate(1008 264)"><rect x="-14.5" y="-7" width="29" height="14"/><text>YBX1</text></g>
<g id="n-TERF2" class="n" transform="translate(949 283)"><rect x="-17" y="-7" width="34" height="14"/><text>TERF2</text></g>
<g id="n-CBX3" class="n" transform="translate(1056 280)"><rect x="-14.5" y="-7" width="29" height="14"/><text>CBX3</text></g>
<g id="n-HIST2H3A" class="n" transform="translate(1147 292)"><rect x="-24" y="-7" width="48" height="14"/><text>HIST2H3A</text></g>
<g id="n-HPDL" class="n" transform="translate(1002 301)"><rect x="-14.5" y="-7" width="29" height="14"/><text>HPDL</text></g>
<g id="n-PRPF40A" class="n" transform="translate(1089 311)"><rect x="-22" y="-7" width="44" height="14"/><text>PRPF40A</text></g>
<g id="n-NRF1" class="n" transform="translate(957 337)"><rect x="-14.5" y="-7" width="29" height="14"/><text>NRF1</text></g>
<g id="n-HECW2" class="n" transform="translate(1037 331)"><rect x="-17.5" y="-7" width="35" height="14"/><text>HECW2</text></g>
<g id="n-SUMO2" class="n" transform="translate(1102 344)"><rect x="-17.5" y="-7" width="35" height="14"/><text>SUMO2</text></g>
<g id="n-KIAA1549" class="n" transform="translate(1158 354)"><rect x="-24" y="-7" width="48" height="14"/><text>KIAA1549</text></g>
<g id="n-CBX5" class="n" transform="translate(1003 362)"><rect x="-14.5" y="-7" width="29" height="14"/><text>CBX5</text></g>
<g id="n-ZNF281" class="n" transform="translate(988 393)"><rect x="-19" y="-7" width="38" height="14"/><text>ZNF281</text></g>
<g id="n-APC" class="n" transform="translate(1100 389)"><rect x="-11" y="-7" width="22" height="14"/><text>APC</text></g>
<g id="n-N4BP2" class="n" transform="translate(1042 459)"><rect x="-16" y="-7" width="32" height="14"/><text>N4BP2</text></g>
<g id="n-TTR" class="n" transform="translate(1122 434)"><rect x="-11" y="-7" width="22" height="14"/><text>TTR</text></g>
<g id="n-MAML3" class="n" transform="translate(1170 435)"><rect x="-17" y="-7" width="34" height="14"/><text>MAML3</text></g>
<g id="n-ZNF496" class="n" transform="translate(1095 469)"><rect x="-19" y="-7" width="38" height="14"/><text>ZNF496</text></g>
<g id="n-GSK3B" class="n" transform="translate(1149 472)"><rect x="-17" y="-7" width="34" height="14"/><text>GSK3B</text></g>
<g id="n-SIRT7" class="n" transform="translate(1199 476)"><rect x="-16" y="-7" width="32" height="14"/><text>SIRT7</text></g>
<g id="n-MAPK8IP2" class="n" transform="translate(1207 519)"><rect x="-24.5" y="-7" width="49" height="14"/><text>MAPK8IP2</text></g>
<g id="n-CDKN1A" class="n" transform="translate(1148 522)"><rect x="-20" y="-7" width="40" height="14"/><text>CDKN1A</text></g>
<g id="n-GADD45A" class="n" transform="translate(1091 523)"><rect x="-22" y="-7" width="44" height="14"/><text>GADD45A</text></g>
<g id="n-LZTR1" class="n" transform="translate(1038 524)"><rect x="-16" y="-7" width="32" height="14"/><text>LZTR1</text></g>
<g id="n-DDIT3" class="n" transform="translate(1145 554)"><rect x="-16" y="-7" width="32" height="14"/><text>DDIT3</text></g>
<g id="n-CASP2" class="n" transform="translate(1194 553)"><rect x="-16.5" y="-7" width="33" height="14"/><text>CASP2</text></g>
<g id="n-TESC" class="n" transform="translate(1036 564)"><rect x="-13.5" y="-7" width="27" height="14"/><text>TESC</text></g>
<g id="n-RPS6KA5" class="n" transform="translate(1088 567)"><rect x="-22.5" y="-7" width="45" height="14"/><text>RPS6KA5</text></g>
<g id="n-PIN1" class="n" transform="translate(1146 596)"><rect x="-13" y="-7" width="26" height="14"/><text>PIN1</text></g>
<g id="n-GLI1" class="n" transform="translate(1100 612)"><rect x="-13" y="-7" width="26" height="14"/><text>GLI1</text></g>
<g id="n-GATA1" class="n" transform="translate(1055 617)"><rect x="-16" y="-7" width="32" height="14"/><text>GATA1</text></g>
</g>
<g id="title"><text x="19" y="671" font-family="Liberation Sans,Arial,sans-serif" font-weight="bold" font-size="20" fill="#000">Cognoscente</text></g>
<g id="legend">
<rect x="1025" y="667" width="228" height="62" fill="#fff"/>
<text class="lg" x="1036" y="686">Protein Protein interaction</text>
<text class="lg" x="1036" y="704">Protein DNA interaction</text>
<text class="lg" x="1036" y="721">Protein RNA interaction</text>
<line x1="1215" y1="681" x2="1274" y2="681" stroke="#c8c8c8" stroke-width="1.5"/>
<line x1="1215" y1="701" x2="1274" y2="701" stroke="#ff3030" stroke-width="1.2" stroke-dasharray="4 3"/>
<line x1="1215" y1="721" x2="1274" y2="721" stroke="#1f66f0" stroke-width="1.5" marker-end="url(#ah2)"/>
</g>
</svg>
